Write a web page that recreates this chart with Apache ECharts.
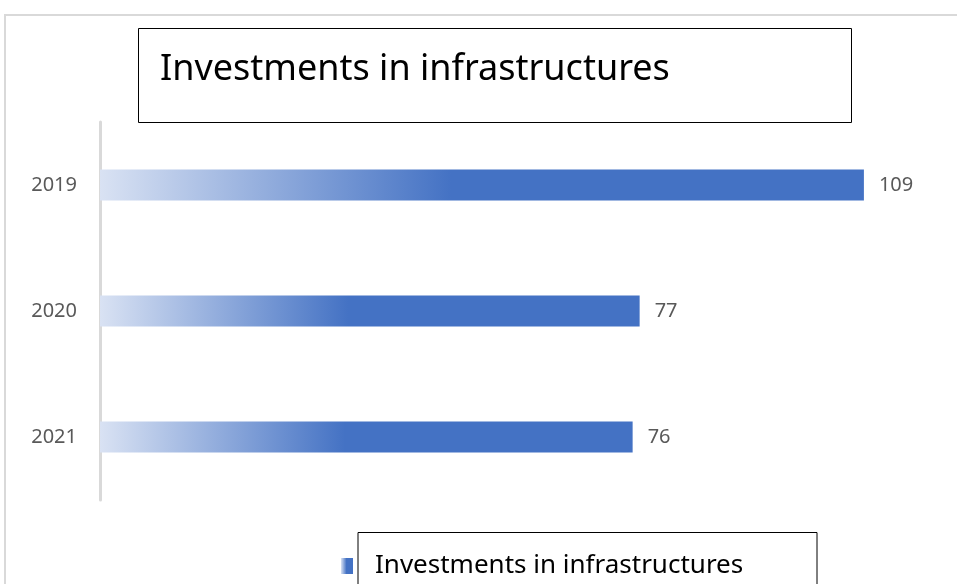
<!DOCTYPE html>
<html>
<head>
<meta charset="utf-8">
<script src="https://cdn.jsdelivr.net/npm/echarts@6/dist/echarts.min.js"></script>
<style>
  html, body { margin: 0; padding: 0; background: #fff; }
  #chart { width: 957px; height: 584px; }
</style>
</head>
<body>
<div id="chart"></div>
<script>
var years = ["2019", "2020", "2021"];
var investments = [109, 77, 76];
var seriesName = "Investments in infrastructures";

var barFill = new echarts.graphic.LinearGradient(0, 0, 1, 0, [
  { offset: 0, color: "#d9e2f3" },
  { offset: 0.46, color: "#4472c4" },
  { offset: 1, color: "#4472c4" },
]);

var chart = echarts.init(document.getElementById("chart"));
chart.setOption({
  animation: false,
  textStyle: { fontFamily: "Noto Sans" },
  graphic: [
    {
      type: "rect",
      shape: { x: 5, y: 15, width: 980, height: 600 },
      style: { fill: "none", stroke: "#d9d9d9", lineWidth: 2 },
      silent: true,
    },
  ],
  title: {
    text: seriesName,
    left: 138,
    top: 28,
    padding: [21, 182, 32, 22],
    borderColor: "#000",
    borderWidth: 1,
    textStyle: {
      fontFamily: "Noto Sans",
      fontWeight: "normal",
      fontSize: 36,
      lineHeight: 42,
      color: "#000",
    },
  },
  legend: {
    data: [seriesName],
    left: 341,
    bottom: -16,
    padding: 0,
    itemWidth: 12,
    itemHeight: 16,
    icon: "rect",
    textStyle: {
      fontFamily: "Noto Sans",
      fontSize: 26,
      lineHeight: 30,
      color: "#000",
      borderColor: "#000",
      borderWidth: 1,
      padding: [23, 22, 14, 17],
      width: 420,
    },
  },
  grid: {
    left: 100,
    right: 16,
    top: 122,
    bottom: 84,
  },
  xAxis: {
    type: "value",
    min: 0,
    max: 120,
    show: false,
    splitLine: { show: false },
  },
  yAxis: {
    type: "category",
    data: years,
    inverse: true,
    axisLine: { lineStyle: { color: "#d9d9d9", width: 3 } },
    axisTick: { show: false },
    axisLabel: {
      margin: 23,
      fontSize: 20,
      color: "#595959",
    },
  },
  series: [
    {
      name: seriesName,
      type: "bar",
      data: investments,
      barWidth: 31,
      itemStyle: { color: barFill },
      label: {
        show: true,
        position: "right",
        distance: 15,
        fontSize: 20,
        color: "#595959",
      },
    },
  ],
});
</script>
</body>
</html>
